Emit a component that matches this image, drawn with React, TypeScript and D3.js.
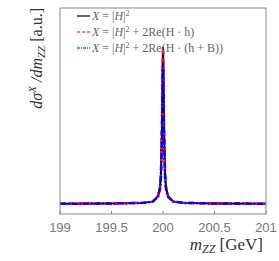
import { line as d3_line, scaleLinear } from "d3";

const massGeV = [199, 199.5, 199.8, 199.9, 199.95, 199.97, 199.98, 199.99, 199.995, 200, 200.005, 200.01, 200.02, 200.03, 200.05, 200.1, 200.2, 200.5, 201];
const sigmaH2 = [0.05, 0.051, 0.054, 0.06, 0.085, 0.125, 0.19, 0.42, 0.66, 0.81, 0.66, 0.42, 0.19, 0.125, 0.085, 0.06, 0.054, 0.051, 0.05];
const sigmaHh = [0.05, 0.051, 0.054, 0.06, 0.085, 0.125, 0.19, 0.42, 0.66, 0.81, 0.66, 0.42, 0.19, 0.125, 0.085, 0.06, 0.054, 0.051, 0.05];
const sigmaHhB = [0.05, 0.051, 0.054, 0.06, 0.083, 0.12, 0.18, 0.38, 0.6, 0.735, 0.6, 0.38, 0.18, 0.12, 0.083, 0.06, 0.054, 0.051, 0.05];
const xTicks = [199, 199.5, 200, 200.5, 201];

const W = 279;
const H = 261;
const margin = { left: 60, right: 13, top: 8, bottom: 47 };

const series = [
  { values: sigmaH2, color: "#000000", dash: "none", width: 2, legendDash: "none" },
  { values: sigmaHh, color: "#ff0000", dash: "5,4", width: 2.5, legendDash: "3,2" },
  { values: sigmaHhB, color: "#0000ff", dash: "6,2,1.5,2", width: 2.5, legendDash: "3,1,1,1" },
];

export default function App() {
  const x = scaleLinear().domain([199, 201]).range([margin.left, W - margin.right]);
  const y = scaleLinear().domain([0, 1]).range([H - margin.bottom, margin.top]);
  const path = d3_line<number>()
    .x((_, i) => x(massGeV[i]))
    .y((d) => y(d));

  const serif = "'Liberation Serif', 'DejaVu Serif', serif";
  const legendY = [16, 32, 48];

  return (
    <svg width={W} height={H} style={{ position: "absolute", left: 0, top: 0, background: "#fff" }}>
      <defs>
        <clipPath id="plot">
          <rect x={margin.left} y={margin.top} width={W - margin.left - margin.right} height={H - margin.top - margin.bottom} />
        </clipPath>
      </defs>

      {/* curves */}
      <g clipPath="url(#plot)">
        {series.map((s, i) => (
          <path key={i} d={path(s.values) ?? ""} fill="none" stroke={s.color} strokeWidth={s.width} strokeDasharray={s.dash} />
        ))}
      </g>

      {/* frame */}
      <rect
        x={margin.left}
        y={margin.top}
        width={W - margin.left - margin.right}
        height={H - margin.top - margin.bottom}
        fill="none"
        stroke="#888"
        strokeWidth={1}
      />

      {/* x ticks */}
      {xTicks.map((t) => (
        <g key={t}>
          <line x1={x(t)} x2={x(t)} y1={H - margin.bottom} y2={H - margin.bottom - 3} stroke="#888" />
          <text x={x(t)} y={232} textAnchor="middle" fontFamily="'Liberation Sans', Arial, sans-serif" fontSize={13} fill="#777">
            {t}
          </text>
        </g>
      ))}

      {/* x label */}
      <text x={263} y={250} textAnchor="end" fontFamily={serif} fontSize={17} fill="#333">
        <tspan fontStyle="italic">m</tspan>
        <tspan fontStyle="italic" fontSize={12} dy={3}>ZZ</tspan>
        <tspan dy={-3}> [GeV]</tspan>
      </text>

      {/* y label */}
      <text transform="translate(42,8) rotate(-90)" textAnchor="end" fontFamily={serif} fontSize={16} fill="#333">
        <tspan fontStyle="italic">dσ</tspan>
        <tspan fontStyle="italic" fontSize={11} dy={-6}>X</tspan>
        <tspan fontStyle="italic" dy={6}> /dm</tspan>
        <tspan fontStyle="italic" fontSize={11} dy={3}>ZZ</tspan>
        <tspan dy={-3}> [a.u.]</tspan>
      </text>

      {/* legend */}
      {series.map((s, i) => (
        <line key={i} x1={77} x2={90} y1={legendY[i]} y2={legendY[i]} stroke={s.color} strokeWidth={1.2} strokeDasharray={s.legendDash} />
      ))}
      <g fontFamily={serif} fontSize={12} fill="#666">
        <text x={92} y={legendY[0] + 4}>
          <tspan fontStyle="italic">X</tspan> = |<tspan fontStyle="italic">H</tspan>|<tspan fontSize={8} dy={-4}>2</tspan>
        </text>
        <text x={92} y={legendY[1] + 4}>
          <tspan fontStyle="italic">X</tspan> = |<tspan fontStyle="italic">H</tspan>|<tspan fontSize={8} dy={-4}>2</tspan>
          <tspan dy={4}> + 2Re(H · h)</tspan>
        </text>
        <text x={92} y={legendY[2] + 4}>
          <tspan fontStyle="italic">X</tspan> = |<tspan fontStyle="italic">H</tspan>|<tspan fontSize={8} dy={-4}>2</tspan>
          <tspan dy={4}> + 2Re(H · (h + B))</tspan>
        </text>
      </g>
    </svg>
  );
}
